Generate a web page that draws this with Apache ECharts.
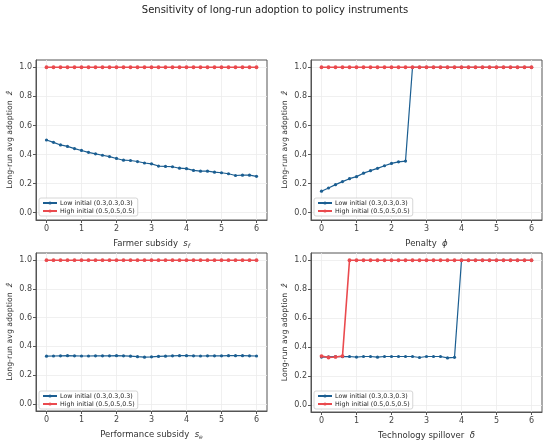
<!DOCTYPE html>
<html>
<head>
<meta charset="utf-8">
<script src="https://cdn.jsdelivr.net/npm/echarts@6/dist/echarts.min.js"></script>
<style>html,body{margin:0;padding:0;background:#fff}#c{width:550px;height:441px}</style>
</head>
<body>
<div id="c"></div>
<script>
const xs = [0,0.2,0.4,0.6,0.8,1.0,1.2,1.4,1.6,1.8,2.0,2.2,2.4,2.6,2.8,3.0,3.2,3.4,3.6,3.8,4.0,4.2,4.4,4.6,4.8,5.0,5.2,5.4,5.6,5.8,6.0];
const xTicks = [0,1,2,3,4,5,6];
const yTicks = [0,0.2,0.4,0.6,0.8,1.0];
const seriesNames = ['Low initial (0.3,0.3,0.3)','High initial (0.5,0.5,0.5)'];
const titleText = 'Sensitivity of long-run adoption to policy instruments';

const subsidyLow = [0.500,0.484,0.466,0.456,0.441,0.428,0.415,0.405,0.395,0.386,0.373,0.361,0.359,0.352,0.342,0.336,0.321,0.318,0.316,0.306,0.303,0.291,0.286,0.286,0.279,0.275,0.268,0.256,0.258,0.258,0.250];
const subsidyHigh = [1,1,1,1,1,1,1,1,1,1,1,1,1,1,1,1,1,1,1,1,1,1,1,1,1,1,1,1,1,1,1];
const penaltyLow = [0.148,0.170,0.193,0.214,0.234,0.248,0.272,0.289,0.305,0.323,0.339,0.350,0.355,1,1,1,1,1,1,1,1,1,1,1,1,1,1,1,1,1,1];
const penaltyHigh = [1,1,1,1,1,1,1,1,1,1,1,1,1,1,1,1,1,1,1,1,1,1,1,1,1,1,1,1,1,1,1];
const perfLow = [0.332,0.333,0.334,0.335,0.334,0.333,0.333,0.334,0.334,0.334,0.335,0.334,0.332,0.328,0.325,0.327,0.330,0.332,0.334,0.335,0.335,0.334,0.333,0.334,0.334,0.334,0.335,0.335,0.335,0.334,0.333];
const perfHigh = [1,1,1,1,1,1,1,1,1,1,1,1,1,1,1,1,1,1,1,1,1,1,1,1,1,1,1,1,1,1,1];
const spillLow = [0.330,0.332,0.333,0.333,0.334,0.330,0.334,0.334,0.329,0.334,0.334,0.334,0.334,0.334,0.327,0.334,0.334,0.334,0.324,0.328,1,1,1,1,1,1,1,1,1,1,1];
const spillHigh = [0.337,0.327,0.331,0.337,1,1,1,1,1,1,1,1,1,1,1,1,1,1,1,1,1,1,1,1,1,1,1,1,1,1,1];

const panels = [
  {low: subsidyLow, high: subsidyHigh, name: 'Farmer subsidy  {i|s}{sub|f}'},
  {low: penaltyLow, high: penaltyHigh, name: 'Penalty  {i|ϕ}'},
  {low: perfLow, high: perfHigh, name: 'Performance subsidy  {i|s}{sub|e}'},
  {low: spillLow, high: spillHigh, name: 'Technology spillover  {i|δ}'}
];
const yName = 'Long-run avg adoption  {i|ẑ}';

const BLUE = '#1b5e91';
const RED = '#ea4a4e';
const gridPos = [
  {left: 36, top: 60, width: 231, height: 160},
  {left: 311, top: 60, width: 231, height: 160},
  {left: 36, top: 253, width: 231, height: 160},
  {left: 311, top: 253, width: 231, height: 160}
];

const grids = [], xAxes = [], yAxes = [], series = [], legends = [];
panels.forEach((p, k) => {
  const g = gridPos[k];
  grids.push(Object.assign({show: true, borderColor: '#555', borderWidth: 1, backgroundColor: '#fff'}, g));
  xAxes.push({
    type: 'value', gridIndex: k, min: -0.3, max: 6.3,
    name: p.name, nameLocation: 'middle', nameGap: 19,
    nameTextStyle: {fontSize: 8.5, color: '#333', fontFamily: 'DejaVu Sans',
      rich: {i: {fontStyle: 'italic', fontSize: 8.5, color: '#333', fontFamily: 'DejaVu Sans'},
             sub: {fontStyle: 'italic', fontSize: 6, color: '#333', verticalAlign: 'bottom', padding: [4,0,0,0], fontFamily: 'DejaVu Sans'}}},
    axisLine: {show: true, onZero: false, lineStyle: {color: '#555', width: 1}},
    axisTick: {show: true, length: 3, customValues: xTicks, lineStyle: {color: '#555'}},
    axisLabel: {customValues: xTicks, fontSize: 8, color: '#444', margin: 5, fontFamily: 'DejaVu Sans'},
    splitLine: {show: true, lineStyle: {color: '#ececec', width: 0.8}}
  });
  yAxes.push({
    type: 'value', gridIndex: k, min: -0.05, max: 1.05,
    name: yName, nameLocation: 'middle', nameGap: 22,
    nameTextStyle: {fontSize: 7.8, color: '#333', fontFamily: 'DejaVu Sans',
      rich: {i: {fontStyle: 'italic', fontSize: 7.8, color: '#333', fontFamily: 'DejaVu Sans'}}},
    axisLine: {show: true, onZero: false, lineStyle: {color: '#555', width: 1}},
    axisTick: {show: true, length: 3, customValues: yTicks, lineStyle: {color: '#555'}},
    axisLabel: {customValues: yTicks, fontSize: 8, color: '#444', margin: 4, fontFamily: 'DejaVu Sans',
      formatter: v => v.toFixed(1)},
    splitLine: {show: true, lineStyle: {color: '#ececec', width: 0.8}}
  });
  [[p.low, BLUE, 0], [p.high, RED, 1]].forEach(([vals, col, j]) => {
    series.push({
      type: 'line', name: seriesNames[j], xAxisIndex: k, yAxisIndex: k,
      data: xs.map((x, i) => [x, vals[i]]),
      symbol: 'circle', symbolSize: j ? 3.8 : 3.2, showSymbol: true,
      lineStyle: {color: col, width: j ? 1.6 : 1.2},
      itemStyle: {color: col, borderWidth: 0},
      z: j ? 4 : 3, animation: false
    });
  });
  legends.push({
    data: seriesNames, orient: 'vertical',
    left: g.left + 3, top: g.top + g.height - 22,
    itemWidth: 14, itemHeight: 4, itemGap: 2,
    padding: [2, 3, 2, 3],
    borderColor: '#ccc', borderWidth: 0.8, borderRadius: 2,
    backgroundColor: 'rgba(255,255,255,0.85)',
    textStyle: {fontSize: 6.3, color: '#222', fontFamily: 'DejaVu Sans', padding: [0,0,0,-2]},
    selectedMode: false
  });
});

const chart = echarts.init(document.getElementById('c'), null, {renderer: 'canvas'});
chart.setOption({
  animation: false,
  backgroundColor: '#fff',
  title: {text: titleText, left: 'center', top: 5, padding: 0,
    textStyle: {fontSize: 10, fontWeight: 'normal', color: '#222', fontFamily: 'DejaVu Sans'}},
  grid: grids, xAxis: xAxes, yAxis: yAxes, series: series, legend: legends
});
</script>
</body>
</html>
